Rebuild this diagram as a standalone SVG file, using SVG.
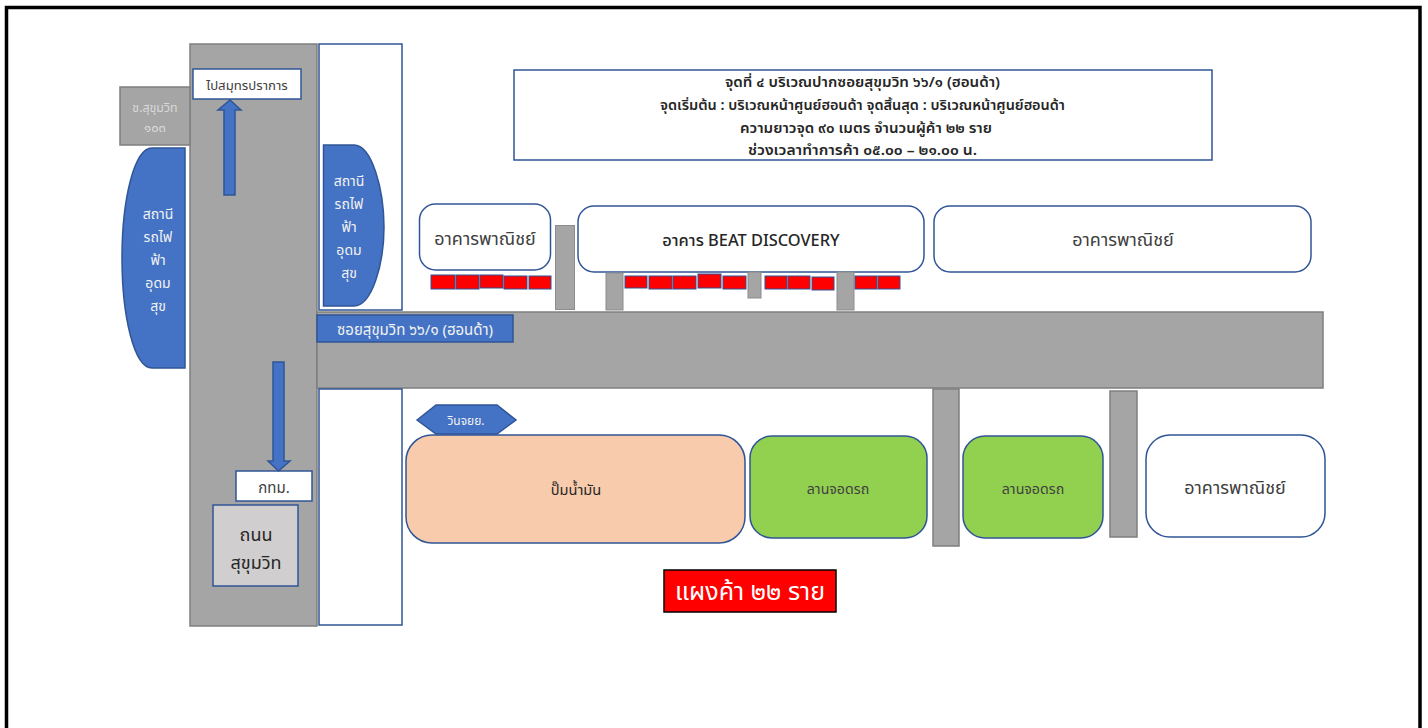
<svg xmlns="http://www.w3.org/2000/svg" width="1428" height="728" viewBox="0 0 1428 728">
<style>
svg{font-size:14px}
text{font-family:"Noto Sans","Noto Sans Thai","DejaVu Sans","Liberation Sans",sans-serif;text-anchor:middle;fill:#262626}
.road{fill:#a5a5a5;stroke:#7f7f7f;stroke-width:1.5}
.blue{fill:#4472c4;stroke:#2f5597;stroke-width:1.5}
.box{fill:#fff;stroke:#2f5597;stroke-width:1.5}
.stall{fill:#ff0000;stroke:#2f5597;stroke-width:1}
text.w{fill:#f2f2f2}
text.g{fill:#404040;font-size:18px}
</style>
<rect width="1428" height="728" fill="#fff"/>
<path id="frame" d="M6.500 728V7.500H1420V728" fill="none" stroke="#000" stroke-width="3.500"/>
<g id="road-main"><rect class="road" x="190" y="44" width="127" height="582"/></g>
<g id="road-soi"><rect class="road" x="317" y="312" width="1006" height="76"/></g>
<g id="rail-top"><rect class="box" x="319" y="44" width="83" height="266" stroke-width="1"/></g>
<g id="rail-bottom"><rect class="box" x="319" y="389" width="83" height="236" stroke-width="1"/></g>
<g id="soi-103"><rect class="road" x="120" y="87" width="70" height="58"/><text x="155" y="112" font-size="12.400" style="fill:#d9d9d9">ช.สุขุมวิท</text><text x="155" y="132" font-size="13" style="fill:#d9d9d9">๑๐๓</text></g>
<g id="station-left"><path class="blue" d="M185 148H152C134 148 122 200 122 258S134 368 152 368H185Z"/>
<text class="w" x="158" y="219">สถานี</text><text class="w" x="158" y="242">รถไฟ</text><text class="w" x="158" y="265">ฟ้า</text><text class="w" x="158" y="288">อุดม</text><text class="w" x="158" y="311">สุข</text></g>
<g id="station-right"><path class="blue" d="M323.500 145H354C372 145 384 190 384 227S372 306 354 306H323.500Z"/>
<text class="w" x="349" y="186">สถานี</text><text class="w" x="349" y="209">รถไฟ</text><text class="w" x="349" y="232">ฟ้า</text><text class="w" x="349" y="255">อุดม</text><text class="w" x="349" y="278">สุข</text></g>
<g id="to-samutprakan"><rect class="box" x="193" y="69" width="108" height="30"/><text x="247" y="90" font-size="13.200" style="fill:#404040">ไปสมุทรปราการ</text></g>
<g id="to-bangkok"><rect class="box" x="236" y="471" width="76" height="30"/><text x="274" y="493" font-size="15" style="fill:#404040">กทม.</text></g>
<g id="connectors">
<path class="blue" d="M224 195V110H218L230 100L241 110H235V195Z"/>
<path class="blue" d="M273 362H284V461H290L278.500 471L268 461H273Z"/>
</g>
<g id="sukhumvit-label"><rect x="213" y="505" width="85" height="81" fill="#d0cece" stroke="#2f5597" stroke-width="1.500"/><text x="256" y="541" font-size="18">ถนน</text><text x="256" y="569" font-size="18">สุขุมวิท</text></g>
<g id="title"><rect class="box" x="514" y="70" width="698" height="90"/>
<text x="862.500" y="87" font-size="13.500" font-weight="600" textLength="275" lengthAdjust="spacingAndGlyphs">จุดที่ ๔ บริเวณปากซอยสุขุมวิท ๖๖/๑ (ฮอนด้า)</text>
<text x="862.500" y="110" font-size="13.500" font-weight="600" textLength="405" lengthAdjust="spacingAndGlyphs">จุดเริ่มต้น : บริเวณหน้าศูนย์ฮอนด้า จุดสิ้นสุด : บริเวณหน้าศูนย์ฮอนด้า</text>
<text x="866" y="133" font-size="13.500" font-weight="600" textLength="252" lengthAdjust="spacingAndGlyphs">ความยาวจุด ๙๐ เมตร จำนวนผู้ค้า ๒๒ ราย</text>
<text x="862.500" y="155" font-size="13.500" font-weight="600" textLength="229" lengthAdjust="spacingAndGlyphs">ช่วงเวลาทำการค้า ๐๕.๐๐ – ๒๑.๐๐ น.</text></g>
<g id="building-1"><rect class="box" x="419.500" y="204" width="131" height="66" rx="16"/><text class="g" x="485" y="245">อาคารพาณิชย์</text></g>
<g id="building-beat"><rect class="box" x="578" y="206" width="346" height="66" rx="16"/><text x="751" y="246" font-size="16.400" font-weight="500">อาคาร BEAT DISCOVERY</text></g>
<g id="building-3"><rect class="box" x="934" y="206" width="377" height="66" rx="16"/><text class="g" x="1123" y="246">อาคารพาณิชย์</text></g>
<g id="alleys-top" fill="#a5a5a5" stroke="#8c8c8c">
<rect x="555.500" y="225.500" width="19" height="84"/><rect x="606" y="273" width="17" height="37"/><rect x="748" y="272" width="13" height="26"/><rect x="837" y="272" width="17" height="38"/></g>
<g id="stalls">
<rect class="stall" x="431" y="275" width="24" height="14"/><rect class="stall" x="456" y="275" width="23" height="14"/><rect class="stall" x="480" y="275" width="23" height="13"/><rect class="stall" x="504" y="276" width="23" height="13"/><rect class="stall" x="529" y="276" width="22" height="13"/>
<rect class="stall" x="625" y="276" width="22" height="12"/><rect class="stall" x="649" y="276" width="23" height="13"/><rect class="stall" x="673" y="276" width="23" height="13"/><rect class="stall" x="698" y="274" width="23" height="14"/><rect class="stall" x="723" y="276" width="23" height="13"/>
<rect class="stall" x="765" y="276" width="22" height="13"/><rect class="stall" x="788" y="276" width="22" height="13"/><rect class="stall" x="812" y="277" width="22" height="13"/><rect class="stall" x="855" y="276" width="22" height="13"/><rect class="stall" x="878" y="276" width="22" height="13"/>
</g>
<g id="soi-label"><rect class="blue" x="317" y="315" width="196" height="27"/><text class="w" x="415" y="335" font-size="15">ซอยสุขุมวิท ๖๖/๑ (ฮอนด้า)</text></g>
<g id="win"><path class="blue" d="M417 420L436 405H497L516 420L497 434H436Z"/><text class="w" x="466" y="425" font-size="12">วินจยย.</text></g>
<g id="gas"><rect x="406" y="435" width="339" height="108" rx="26" fill="#f7cbac" stroke="#2f5597" stroke-width="1.500"/><text x="576" y="495" font-size="14.600">ปั๊มน้ำมัน</text></g>
<g id="parking-1"><rect x="750" y="436" width="177" height="102" rx="22" fill="#92d050" stroke="#2f5597" stroke-width="1.500"/><text x="838" y="494" font-size="14.200" style="fill:#404040">ลานจอดรถ</text></g>
<g id="parking-2"><rect x="963" y="436" width="140" height="102" rx="22" fill="#92d050" stroke="#2f5597" stroke-width="1.500"/><text x="1033" y="494" font-size="14.200" style="fill:#404040">ลานจอดรถ</text></g>
<g id="alleys-bottom" fill="#a5a5a5" stroke="#7f7f7f" stroke-width="1.500"><rect x="933" y="389" width="26" height="157"/><rect x="1110" y="391" width="27" height="146"/></g>
<g id="building-4"><rect class="box" x="1146" y="435" width="179" height="102" rx="24"/><text class="g" x="1235" y="494">อาคารพาณิชย์</text></g>
<g id="legend"><rect x="664" y="570" width="172" height="42" fill="#ff0000" stroke="#000" stroke-width="1.500"/><text x="750" y="600" font-size="25" style="fill:#fff">แผงค้า ๒๒ ราย</text></g>
</svg>
